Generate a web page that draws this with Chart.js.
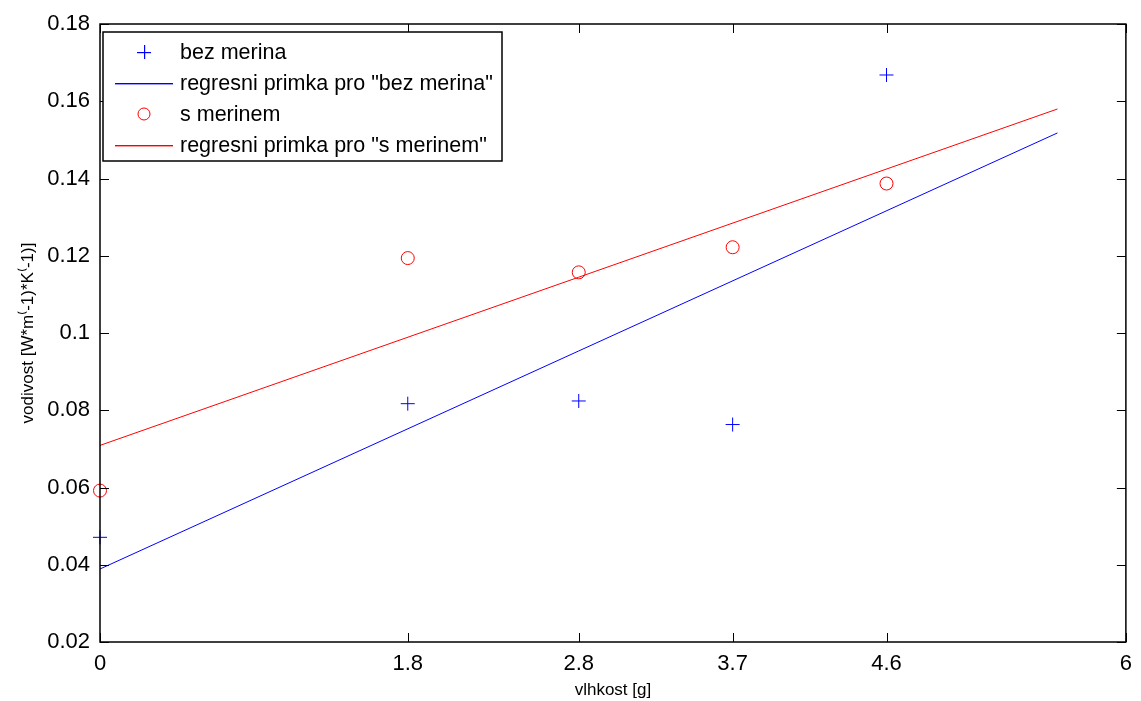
<!DOCTYPE html>
<html>
<head>
<meta charset="utf-8">
<script src="https://cdn.jsdelivr.net/npm/chart.js@4/dist/chart.umd.min.js"></script>
<style>
  html, body { margin: 0; padding: 0; background: #fff; }
  canvas { display: block; }
</style>
</head>
<body>
<canvas id="chart" width="1141" height="701"></canvas>
<script>
// measured values
const vlhkost = [0, 1.8, 2.8, 3.7, 4.6];
const bezMerina = [0.0471, 0.0817, 0.0824, 0.0763, 0.1668];
const sMerinem = [0.0592, 0.1194, 0.1157, 0.1222, 0.1387];

// regression line end points
const fitX = [0, 5.6];
const fitBez = [0.0389, 0.1518];
const fitMer = [0.0709, 0.1580];

const xTicks = [0, 1.8, 2.8, 3.7, 4.6, 6];

const BLUE = "#0000ff";
const RED = "#ff0000";
const FONT = "Liberation Sans, Arial, sans-serif";

const toPoints = (xs, ys) => xs.map((x, i) => ({ x: x, y: ys[i] }));

// inward ticks on all four sides + box round the plot
const framePlugin = {
  id: "frame",
  afterDraw(chart) {
    const { ctx, chartArea: a, scales } = chart;
    const len = 9;
    ctx.save();
    ctx.strokeStyle = "#000";
    ctx.lineWidth = 1.5;
    ctx.strokeRect(a.left, a.top, a.right - a.left, a.bottom - a.top);
    ctx.lineWidth = 1;
    ctx.beginPath();
    scales.x.ticks.forEach(t => {
      const px = Math.round(scales.x.getPixelForValue(t.value)) + 0.5;
      ctx.moveTo(px, a.bottom); ctx.lineTo(px, a.bottom - len);
      ctx.moveTo(px, a.top); ctx.lineTo(px, a.top + len);
    });
    scales.y.ticks.forEach(t => {
      const py = Math.round(scales.y.getPixelForValue(t.value)) + 0.5;
      ctx.moveTo(a.left, py); ctx.lineTo(a.left + len, py);
      ctx.moveTo(a.right, py); ctx.lineTo(a.right - len, py);
    });
    ctx.stroke();
    ctx.restore();
  }
};

// boxed legend in the upper left corner of the plot
const boxLegend = {
  id: "boxLegend",
  afterDraw(chart) {
    const { ctx, chartArea: a } = chart;
    const x0 = a.left + 3, y0 = a.top + 8, w = 399, h = 129;
    const rowH = 31, firstRow = 20;
    ctx.save();
    ctx.fillStyle = "#fff";
    ctx.fillRect(x0, y0, w, h);
    ctx.strokeStyle = "#000";
    ctx.lineWidth = 1.5;
    ctx.strokeRect(x0, y0, w, h);
    ctx.font = "21.5px " + FONT;
    ctx.textBaseline = "middle";
    chart.data.datasets.forEach((ds, i) => {
      const cy = Math.round(y0 + firstRow + i * rowH);
      const color = ds.legendColor;
      if (ds.showLine) {
        ctx.fillStyle = color;
        ctx.fillRect(x0 + 12, cy, 58, 1.4);
      } else if (ds.pointStyle === "cross") {
        ctx.fillStyle = color;
        ctx.fillRect(x0 + 34, cy, 14, 1.2);
        ctx.fillRect(x0 + 41, cy - 7, 1.2, 14);
      } else {
        ctx.strokeStyle = color;
        ctx.lineWidth = 1;
        ctx.beginPath();
        ctx.arc(x0 + 41, cy, 6, 0, Math.PI * 2);
        ctx.stroke();
      }
      ctx.fillStyle = "#000";
      ctx.fillText(ds.label, x0 + 77, cy + 1);
    });
    ctx.restore();
  }
};

new Chart(document.getElementById("chart"), {
  type: "scatter",
  data: {
    datasets: [
      {
        label: "bez merina",
        data: toPoints(vlhkost, bezMerina),
        pointStyle: "cross",
        pointRadius: 7,
        borderColor: BLUE,
        legendColor: BLUE,
        borderWidth: 1,
        showLine: false,
        clip: false
      },
      {
        label: "regresni primka pro \"bez merina\"",
        data: toPoints(fitX, fitBez),
        borderColor: BLUE,
        legendColor: BLUE,
        borderWidth: 1,
        pointRadius: 0,
        showLine: true
      },
      {
        label: "s merinem",
        data: toPoints(vlhkost, sMerinem),
        pointStyle: "circle",
        pointRadius: 6.5,
        borderColor: RED,
        legendColor: RED,
        backgroundColor: "rgba(0,0,0,0)",
        borderWidth: 1,
        showLine: false,
        clip: false
      },
      {
        label: "regresni primka pro \"s merinem\"",
        data: toPoints(fitX, fitMer),
        borderColor: RED,
        legendColor: RED,
        borderWidth: 1,
        pointRadius: 0,
        showLine: true
      }
    ]
  },
  options: {
    responsive: false,
    animation: false,
    layout: { padding: { top: 24, right: 6, left: 0, bottom: 0 } },
    plugins: {
      legend: { display: false },
      tooltip: { enabled: false }
    },
    scales: {
      x: {
        type: "linear",
        min: 0,
        max: 6,
        afterBuildTicks: s => { s.ticks = xTicks.map(v => ({ value: v })); },
        afterFit: s => { s.height = 59; },
        grid: { display: false, drawTicks: false },
        border: { display: false },
        ticks: {
          color: "#000",
          font: { family: FONT, size: 22 },
          padding: 9,
          maxRotation: 0,
          callback: v => String(v)
        },
        title: {
          display: true,
          text: "vlhkost [g]",
          color: "#000",
          font: { family: FONT, size: 17 },
          padding: { top: 0, bottom: 0 }
        }
      },
      y: {
        min: 0.02,
        max: 0.18,
        afterFit: s => { s.width = 100; },
        grid: { display: false, drawTicks: false },
        border: { display: false },
        ticks: {
          stepSize: 0.02,
          color: "#000",
          font: { family: FONT, size: 22 },
          padding: 10,
          callback: v => String(+v.toFixed(2))
        },
        title: {
          display: true,
          text: "vodivost [W*m\u207D-1)*K\u207D-1)]",
          color: "#000",
          font: { family: FONT, size: 17 },
          padding: { top: 18, bottom: 0 }
        }
      }
    }
  },
  plugins: [framePlugin, boxLegend]
});
</script>
</body>
</html>
